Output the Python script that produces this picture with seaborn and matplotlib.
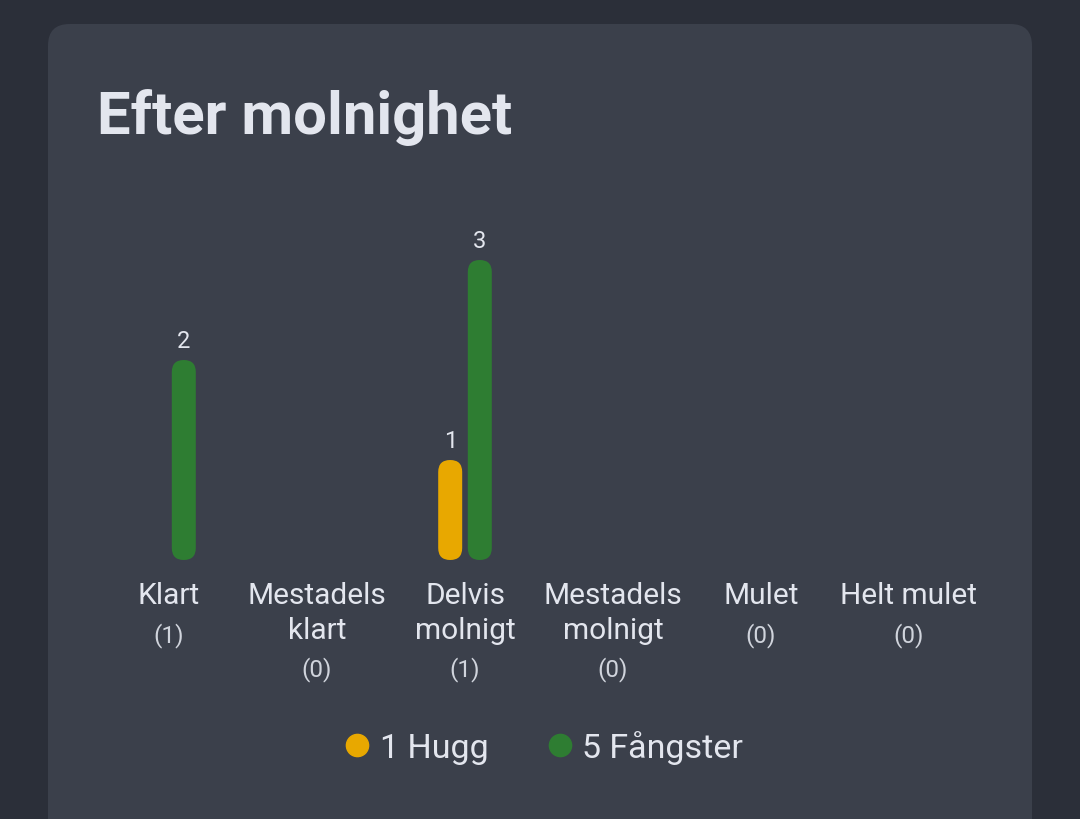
import matplotlib
matplotlib.use("Agg")
import matplotlib.pyplot as plt
import seaborn as sns
import pandas as pd
from matplotlib.patches import FancyBboxPatch
from matplotlib.lines import Line2D
import matplotlib.transforms as mtrans

categories = ["Klart", "Mestadels\nklart", "Delvis\nmolnigt", "Mestadels\nmolnigt", "Mulet", "Helt mulet"]
counts = [1, 0, 1, 0, 0, 0]
hugg = [0, 0, 1, 0, 0, 0]
fangster = [2, 0, 3, 0, 0, 0]
series_names = ["1 Hugg", "5 Fångster"]
colors = ["#e8a800", "#2e7d32"]

sns.set_theme(style="white")
plt.rcParams['font.family'] = ['Roboto', 'DejaVu Sans']
txt = "#e3e6ee"

fig = plt.figure(figsize=(10.8, 8.2), dpi=100, facecolor="#2b2f39")
W, H = 1080, 820
card = FancyBboxPatch((48/W, -0.05), 984/W, (820-25)/H + 0.05, boxstyle="round,pad=0,rounding_size=0.02",
                      transform=fig.transFigure, facecolor="#3b404b", edgecolor="none", mutation_aspect=W/H,
                      zorder=-10)
fig.patches.append(card)
fig.text(97/W, 1-118/H, "Efter molnighet", color=txt, fontsize=43, fontweight="bold", va="center", ha="left")

ax = fig.add_axes([95/W, 1-561/H, 888/W, 400/H])
ax.set_facecolor("none")
df = pd.DataFrame({"cat": list(range(6))*2, "val": hugg+fangster,
                   "serie": [series_names[0]]*6 + [series_names[1]]*6})
sns.barplot(data=df, x="cat", y="val", hue="serie", palette=colors, ax=ax, legend=False, width=0.4,
            dodge=True, saturation=1)
ax.set_xlim(-0.5, 5.5); ax.set_ylim(0, 4)
bw = 24/148
for p in list(ax.patches):
    h = p.get_height()
    if h <= 0:
        p.remove(); continue
    cx = p.get_x() + p.get_width()/2
    fb = FancyBboxPatch((cx - bw/2, 0), bw, h, boxstyle=f"round,pad=0,rounding_size={bw/2}",
                        mutation_aspect=1.48, facecolor=p.get_facecolor(), edgecolor="none")
    ax.add_patch(fb)
    ax.text(cx, h + 0.08, f"{int(h)}", ha="center", va="bottom", color=txt, fontsize=17)
    p.remove()
ax.axis("off")

bt = mtrans.blended_transform_factory(ax.transData, fig.transFigure)
for i, (c, n) in enumerate(zip(categories, counts)):
    lines = c.split("\n")
    for j, l in enumerate(lines):
        ax.text(i, 1-(596+35*j)/H, l, transform=bt, ha="center", va="center", color=txt, fontsize=21.5, clip_on=False)
    yc = 636 if len(lines) == 1 else 670
    ax.text(i, 1-yc/H, f"({n})", transform=bt, ha="center", va="center", color="#d0d4dc", fontsize=17.5, clip_on=False)

handles = [Line2D([], [], marker="o", ls="", color=c, markersize=16) for c in colors]
fig.legend(handles, series_names, loc="center", bbox_to_anchor=(540/W, 1-748/H), ncol=2, frameon=False,
           fontsize=24.5, labelcolor=txt, handletextpad=0.05, columnspacing=1.5, handlelength=1.2)
fig.savefig("out.png", dpi=100, facecolor=fig.get_facecolor())
